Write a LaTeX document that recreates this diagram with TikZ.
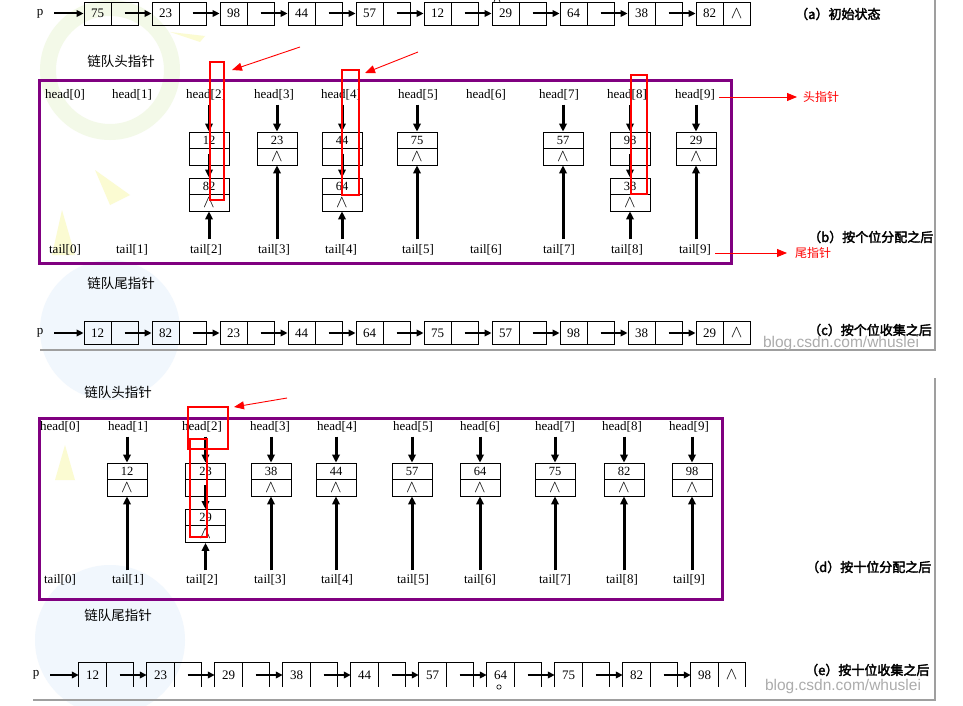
\documentclass[tikz,border=0pt]{standalone}
\usepackage{fontspec}
\setmainfont{Liberation Serif}
\setsansfont{Liberation Sans}
\newfontfamily\cjk{Noto Sans CJK SC}
\newfontfamily\cjkb[FakeBold=2.5]{Noto Sans CJK SC}
\usetikzlibrary{arrows.meta}
\definecolor{qpurple}{HTML}{800080}
\definecolor{qred}{HTML}{FF0000}
\definecolor{bggreen}{HTML}{F3F9E8}
\definecolor{bgyellow}{HTML}{FBFBD2}
\definecolor{bgblue}{HTML}{F1F7FD}
\tikzset{
  lbl/.style={font=\fontsize{13}{14}\selectfont, inner sep=1pt},
  cv/.style={draw, line width=0.8pt, minimum width=27, minimum height=23, inner sep=0, font=\fontsize{13}{14}\selectfont},
  ce/.style={minimum width=27, minimum height=24, inner sep=0, font=\fontsize{13}{14}\selectfont},
  vv/.style={draw, line width=0.8pt, minimum width=40, minimum height=16, inner sep=0, font=\fontsize{12.5}{13}\selectfont},
  vp/.style={draw, line width=0.8pt, minimum width=40, minimum height=17, inner sep=0, font=\fontsize{13}{14}\selectfont},
  larr/.style={line width=2pt, -{Triangle[length=7pt,width=6.5pt]}},
  varr/.style={line width=3pt, -{Triangle[length=8pt,width=7.5pt]}},
  rbox/.style={draw=qred, line width=1.3pt},
  rarr/.style={qred, line width=0.9pt, -{Triangle[length=10pt,width=8pt]}},
  purp/.style={draw=qpurple, line width=3pt},
  captxt/.style={font=\cjkb\fontsize{13}{15}\selectfont, anchor=west, inner sep=0},
  cjktxt/.style={font=\cjk\fontsize{13.5}{15}\selectfont, inner sep=0},
  redtxt/.style={font=\cjk\fontsize{12}{13}\selectfont, text=qred, anchor=west, inner sep=0},
  wm/.style={font=\sffamily\fontsize{15.5}{16}\selectfont, text=gray!65, inner sep=0},
  frame/.style={draw=gray!75, line width=2.5pt},
}
\newcommand{\nl}{\raisebox{-4.6pt}[0pt][0pt]{\fontsize{16}{16}\selectfont$\wedge$}}
\begin{document}
\begin{tikzpicture}[x=1pt, y=-1pt]
\useasboundingbox (0,0) rectangle (963,706);
\fill[white] (0,0) rectangle (963,706);
% faint background art
\draw[bggreen, line width=16pt] (110,70) circle (62);
\fill[bgyellow] (170,32) -- (205,36) -- (200,42) -- cycle;
\fill[bgyellow] (62,210) -- (75,255) -- (52,255) -- cycle;
\fill[bgyellow] (95,170) -- (130,195) -- (110,205) -- cycle;
\fill[bgblue] (110,330) circle (70);
\fill[bgblue] (110,640) circle (75);
\fill[bgyellow] (65,445) -- (75,480) -- (55,480) -- cycle;
% frames
\draw[frame] (40,350) -- (935,350) -- (935,0);
\draw[frame] (33,700) -- (935,700) -- (935,378);

% ---------- (a) ----------
\node[lbl] (pa) at (40,13.5) {p};
\foreach \v [count=\k from 0] in {75,23,98,44,57,12,29,64,38,82}{
  \node[cv] (a\k) at ({84+68*\k+13.5},13.5) {\v};
  \node[cv] (ap\k) at ({84+68*\k+40.5},13.5) {\ifnum\k=9 \nl\fi};
}
\draw[larr, shorten <=10pt] (pa.east) -- (a0.west);
\foreach \k in {0,...,8}{\pgfmathtruncatemacro\j{\k+1}\draw[larr] (ap\k.center) -- (a\j.west);}
\draw[line width=0.6pt] (494,2) arc (180:360:3);
\node[captxt] (capa) at (795,14) {（a）初始状态};

% ---------- (b) ----------
\node[cjktxt] (qh1) at (121,61) {链队头指针};
\node[cjktxt] (qt1) at (121,283) {链队尾指针};
\draw[purp] (39,81) rectangle (731,263);
\foreach \x [count=\k from 0] in {65,132,206,274,341,418,486,559,627,695}{
  \node[lbl] (hb\k) at (\x,95) {head[\k]};
  \node[lbl] (tb\k) at (\x,250) {tail[\k]};
}
\foreach \c/\x/\v in {3/277/23,5/417/75,7/563/57,9/696/29}{
  \node[vv] (b\c) at (\x,140) {\v};
  \node[vp] (bp\c) at (\x,156.5) {\nl};
  \draw[varr, shorten <=3pt] (hb\c.south -| b\c.north) -- (b\c.north);
  \draw[varr, shorten <=4pt] (tb\c.north -| bp\c.south) -- (bp\c.south);
}
\foreach \c/\x/\v/\w in {2/209/12/82,4/342/44/64,8/630/98/38}{
  \node[vv] (b\c) at (\x,140) {\v};
  \node[vp] (bp\c) at (\x,156.5) {};
  \node[vv] (bb\c) at (\x,186) {\w};
  \node[vp] (bbp\c) at (\x,202.5) {\nl};
  \draw[varr, shorten <=3pt] (hb\c.south -| b\c.north) -- (b\c.north);
  \draw[varr, shorten <=-3pt] (bp\c.center) -- (bb\c.north);
  \draw[varr, shorten <=4pt] (tb\c.north -| bbp\c.south) -- (bbp\c.south);
}
\draw[rbox] (210,62) rectangle (224,200);
\draw[rbox] (342,70) rectangle (359,195);
\draw[rbox] (631,75) rectangle (647,194);
\coordinate (ra1) at (300,47);
\coordinate (ra1e) at (232,70);
\coordinate (ra2) at (418,52);
\coordinate (ra2e) at (365,73);
\draw[rarr] (ra1) -- (ra1e);
\draw[rarr] (ra2) -- (ra2e);
\node[redtxt] (ltop) at (803,97) {头指针};
\node[redtxt] (ltail) at (795,253) {尾指针};
\draw[rarr] (hb9.east |- ltop.west) ++(3,0) coordinate (hs) (hs) -- ([xshift=-6pt]ltop.west);
\draw[rarr] (tb9.east |- ltail.west) ++(3,0) coordinate (ts) (ts) -- ([xshift=-8pt]ltail.west);
\node[captxt] (capb) at (808,237) {（b）按个位分配之后};

% ---------- (c) ----------
\node[lbl] (pc) at (40,333) {p};
\foreach \v [count=\k from 0] in {12,82,23,44,64,75,57,98,38,29}{
  \node[cv] (c\k) at ({84+68*\k+13.5},333) {\v};
  \node[cv] (cp\k) at ({84+68*\k+40.5},333) {\ifnum\k=9 \nl\fi};
}
\draw[larr, shorten <=10pt] (pc.east) -- (c0.west);
\foreach \k in {0,...,8}{\pgfmathtruncatemacro\j{\k+1}\draw[larr] (cp\k.center) -- (c\j.west);}
\node[captxt] (capc) at (808,330) {（c）按个位收集之后};
\node[wm] (wm1) at (841,343) {blog.csdn.com/whuslei};

% ---------- (d) ----------
\node[cjktxt] (qh2) at (118,392) {链队头指针};
\node[cjktxt] (qt2) at (118,615) {链队尾指针};
\draw[purp] (39,418) rectangle (722,599);
\foreach \x [count=\k from 0] in {60,128,202,270,337,413,480,555,622,689}{
  \node[lbl] (hd\k) at (\x,427) {head[\k]};
  \node[lbl] (td\k) at (\x,580) {tail[\k]};
}
\foreach \c/\x/\v in {1/127/12,3/271/38,4/336/44,5/412/57,6/480/64,7/555/75,8/624/82,9/692/98}{
  \node[vv] (d\c) at (\x,471) {\v};
  \node[vp] (dp\c) at (\x,487.5) {\nl};
  \draw[varr, shorten <=3pt] (hd\c.south -| d\c.north) -- (d\c.north);
  \draw[varr, shorten <=3pt] (td\c.north -| dp\c.south) -- (dp\c.south);
}
\node[vv] (d2) at (205.5,471) {23};
\node[vp] (dp2) at (205.5,487.5) {};
\node[vv] (dd2) at (205.5,517.5) {29};
\node[vp] (ddp2) at (205.5,534) {\nl};
\draw[varr, shorten <=3pt] (hd2.south -| d2.north) -- (d2.north);
\draw[varr, shorten <=-3pt] (dp2.center) -- (dd2.north);
\draw[varr, shorten <=3pt] (td2.north -| ddp2.south) -- (ddp2.south);
\draw[rbox] (188,407) rectangle (228,449);
\draw[rbox] (190,439) rectangle (207,537);
\coordinate (ra3) at (287,398);
\coordinate (ra3e) at (234,407);
\draw[rarr] (ra3) -- (ra3e);
\node[captxt] (capd) at (806,567) {（d）按十位分配之后};

% ---------- (e) ----------
\node[lbl] (pe) at (36,675) {p};
\foreach \v [count=\k from 0] in {12,23,29,38,44,57,64,75,82,98}{
  \node[ce] (e\k) at ({79+68*\k+13.5},675) {\v};
  \node[ce] (ep\k) at ({79+68*\k+40.5},675) {\ifnum\k=9 \nl\fi};
  \draw[line width=0.8pt] (e\k.south west) -- (e\k.north west) -- (ep\k.north east) -- (ep\k.south east);
  \draw[line width=0.8pt] (e\k.north east) -- (e\k.south east);
}
\draw[larr, shorten <=10pt] (pe.east) -- (e0.west);
\foreach \k in {0,...,8}{\pgfmathtruncatemacro\j{\k+1}\draw[larr] (ep\k.center) -- (e\j.west);}
\draw[line width=0.6pt] (499,687) circle (2.2);
\node[captxt] (cape) at (805,670) {（e）按十位收集之后};
\node[wm] (wm2) at (843,686) {blog.csdn.com/whuslei};
\end{tikzpicture}
\end{document}
